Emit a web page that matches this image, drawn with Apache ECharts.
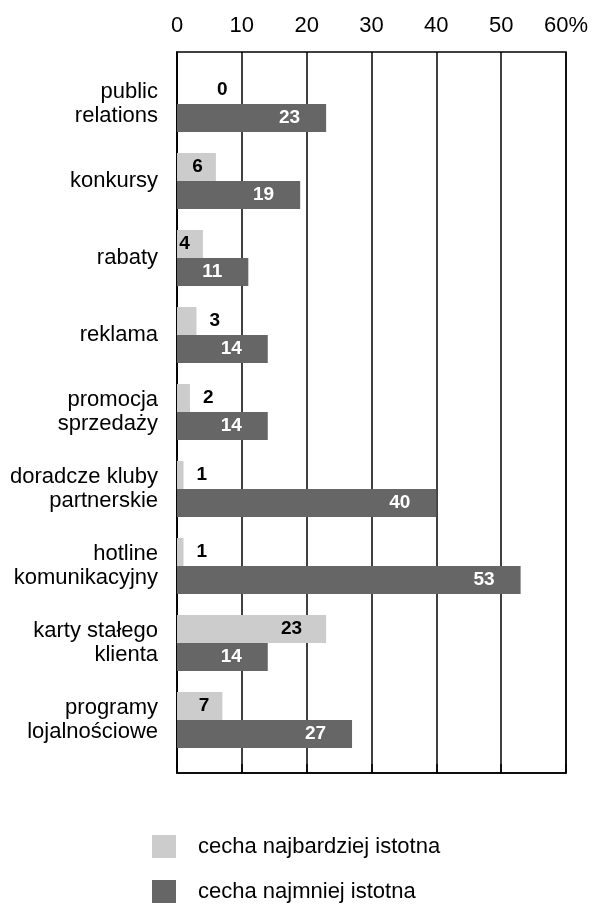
<!DOCTYPE html>
<html><head><meta charset="utf-8">
<script src="https://cdn.jsdelivr.net/npm/echarts@6/dist/echarts.min.js"></script>
<style>html,body{margin:0;padding:0;background:#fff}#c{width:594px;height:905px}</style>
</head><body><div id="c"></div>
<script>
const categories = ["public\nrelations","konkursy","rabaty","reklama","promocja\nsprzedaży","doradcze kluby\npartnerskie","hotline\nkomunikacyjny","karty stałego\nklienta","programy\nlojalnościowe"];
const mostImportant = [0,6,4,3,2,1,1,23,7];
const leastImportant = [23,19,11,14,14,40,53,14,27];
const seriesNames = ["cecha najbardziej istotna","cecha najmniej istotna"];
const xTicks = [0,10,20,30,40,50,60];

const FONT = "'Liberation Sans', Arial, sans-serif";
const chart = echarts.init(document.getElementById('c'));

function lightLabel(v){
  if (v === 0) return {position:'right', distance:40};
  if (v < 4) return {position:'right', distance:13};
  return {position:'insideRight', distance: v < 10 ? 13 : 24};
}

chart.setOption({
  animation:false,
  textStyle:{fontFamily:FONT},
  grid:[
    {left:177, right:28, top:65.5, bottom:146.5, containLabel:false},
    {left:177, right:28, top:52, bottom:132, show:true, borderColor:'#000', borderWidth:1.5, backgroundColor:'transparent'}
  ],
  xAxis:[
    {gridIndex:0, type:'value', min:0, max:60, show:false},
    {gridIndex:1, type:'value', min:0, max:60, interval:10, position:'top',
     axisLine:{show:true, lineStyle:{color:'#000', width:1.5}},
     axisTick:{show:true, length:9, lineStyle:{color:'#000', width:1.5}},
     axisLabel:{margin:15, fontSize:22, color:'#000', fontFamily:FONT,
       formatter:v => v === xTicks[xTicks.length-1] ? v + '%' : String(v)},
     splitLine:{show:true, lineStyle:{color:'#000', width:1.5}}}
  ],
  yAxis:[
    {gridIndex:0, type:'category', data:categories, inverse:true,
     axisLine:{show:false}, axisTick:{show:false},
     axisLabel:{margin:19, fontSize:22, lineHeight:24, color:'#000', align:'right', fontFamily:FONT}},
    {gridIndex:1, type:'value', min:0, max:1, axisLabel:{show:false}, axisTick:{show:false},
     splitLine:{show:false}, axisLine:{show:true, lineStyle:{color:'#000', width:1.5}}}
  ],
  legend:{
    orient:'vertical', left:152, top:835, padding:0, itemWidth:24, itemHeight:23, itemGap:22,
    icon:'rect', data:seriesNames,
    textStyle:{fontSize:22, color:'#000', fontFamily:FONT, padding:[0,0,0,17]}
  },
  series:[
    {name:seriesNames[0], type:'bar', xAxisIndex:0, yAxisIndex:0, barWidth:28, barGap:'0%',
     itemStyle:{color:'#cccccc'},
     label:{show:true, color:'#000', fontWeight:'bold', fontSize:19, fontFamily:FONT},
     data:mostImportant.map(v => ({value:v, label:lightLabel(v)}))},
    {name:seriesNames[1], type:'bar', xAxisIndex:0, yAxisIndex:0, barWidth:28, barGap:'0%',
     itemStyle:{color:'#666666'},
     label:{show:true, position:'insideRight', distance:26, color:'#fff', fontWeight:'bold', fontSize:19, fontFamily:FONT},
     data:leastImportant}
  ]
});
</script></body></html>
